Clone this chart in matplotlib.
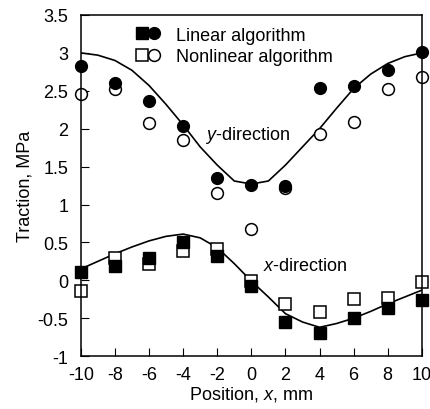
import numpy as np
import matplotlib
matplotlib.use("Agg")
import matplotlib.pyplot as plt
from matplotlib.lines import Line2D
from matplotlib.legend_handler import HandlerTuple

plt.rcParams['font.family'] = ['Liberation Sans', 'DejaVu Sans']
plt.rcParams['mathtext.fontset'] = 'custom'
plt.rcParams['mathtext.it'] = 'Liberation Sans:italic'
plt.rcParams['mathtext.rm'] = 'Liberation Sans'
plt.rcParams['axes.unicode_minus'] = False

# 測定位置
pos = [-10, -8, -6, -4, -2, 0, 2, 4, 6, 8, 10]

# y方向 (丸)
y_linear = [2.83, 2.60, 2.36, 2.03, 1.35, 1.26, 1.24, 2.54, 2.56, 2.77, 3.01]
y_nonlinear = [2.46, 2.52, 2.07, 1.85, 1.15, 0.68, 1.22, 1.93, 2.09, 2.52, 2.68]

# x方向 (四角)
x_linear = [0.11, 0.19, 0.29, 0.50, 0.32, -0.08, -0.55, -0.70, -0.50, -0.37, -0.26]
x_nonlinear = [-0.14, 0.30, 0.21, 0.39, 0.41, -0.01, -0.31, -0.42, -0.25, -0.23, -0.02]

# 解析解の曲線
curve_pos = list(range(-10, 11))
curve_y = [3.0, 2.97, 2.9, 2.77, 2.57, 2.32, 2.05, 1.76, 1.52, 1.31, 1.27,
           1.31, 1.52, 1.76, 2.0, 2.27, 2.53, 2.72, 2.86, 2.95, 3.0]
curve_x = [0.15, 0.25, 0.35, 0.44, 0.52, 0.58, 0.61, 0.56, 0.43, 0.22, -0.01,
           -0.22, -0.44, -0.55, -0.62, -0.57, -0.5, -0.41, -0.31, -0.22, -0.13]

fs = 13
fig = plt.figure(figsize=(4.3, 4.1), dpi=100)
ax = fig.add_axes([0.188, 0.129, 0.793, 0.832])

ax.plot(curve_pos, curve_y, color='black', lw=1.2, zorder=1)
ax.plot(curve_pos, curve_x, color='black', lw=1.2, zorder=1)

ms = 8.5
ax.plot(pos, y_nonlinear, 'o', ms=ms, mfc='white', mec='black', mew=1.1, ls='none', clip_on=False, zorder=2)
ax.plot(pos, x_nonlinear, 's', ms=ms, mfc='white', mec='black', mew=1.1, ls='none', clip_on=False, zorder=2)
ax.plot(pos, y_linear, 'o', ms=ms, mfc='black', mec='black', ls='none', clip_on=False, zorder=2.1)
ax.plot(pos, x_linear, 's', ms=ms, mfc='black', mec='black', ls='none', clip_on=False, zorder=2.1)

ax.set_xlim(-10, 10)
ax.set_ylim(-1, 3.5)
ax.set_xticks(np.arange(-10, 11, 2))
ax.set_yticks(np.arange(-1, 3.6, 0.5))
ax.set_yticklabels(['%g' % v for v in np.arange(-1, 3.6, 0.5)])
ax.tick_params(direction='in', length=6, labelsize=fs, top=False, right=False)
ax.tick_params(axis='y', pad=9)
ax.tick_params(axis='x', pad=7)
for s in ax.spines.values():
    s.set_linewidth(1.1)

ax.set_xlabel('Position, $x$, mm', fontsize=fs, labelpad=1)
ax.set_ylabel('Traction, MPa', fontsize=fs, labelpad=3)

ax.text(-2.73, 1.93, '$y$-direction', fontsize=fs, va='center', ha='left')
ax.text(0.67, 0.20, '$x$-direction', fontsize=fs, va='center', ha='left')

# 凡例
h_lin = (Line2D([], [], marker='s', ms=ms, mfc='black', mec='black', ls='none'),
         Line2D([], [], marker='o', ms=ms, mfc='black', mec='black', ls='none'))
h_non = (Line2D([], [], marker='s', ms=ms, mfc='white', mec='black', mew=1.1, ls='none'),
         Line2D([], [], marker='o', ms=ms, mfc='white', mec='black', mew=1.1, ls='none'))
ax.legend([h_lin, h_non], ['Linear algorithm', 'Nonlinear algorithm'],
          handler_map={tuple: HandlerTuple(ndivide=None, pad=0.0)},
          loc='upper left', bbox_to_anchor=(0.13, 0.998), frameon=False, fontsize=fs,
          handlelength=1.3, handletextpad=0.9, labelspacing=0.25, borderaxespad=0.2)

fig.savefig('out.png', dpi=100)
